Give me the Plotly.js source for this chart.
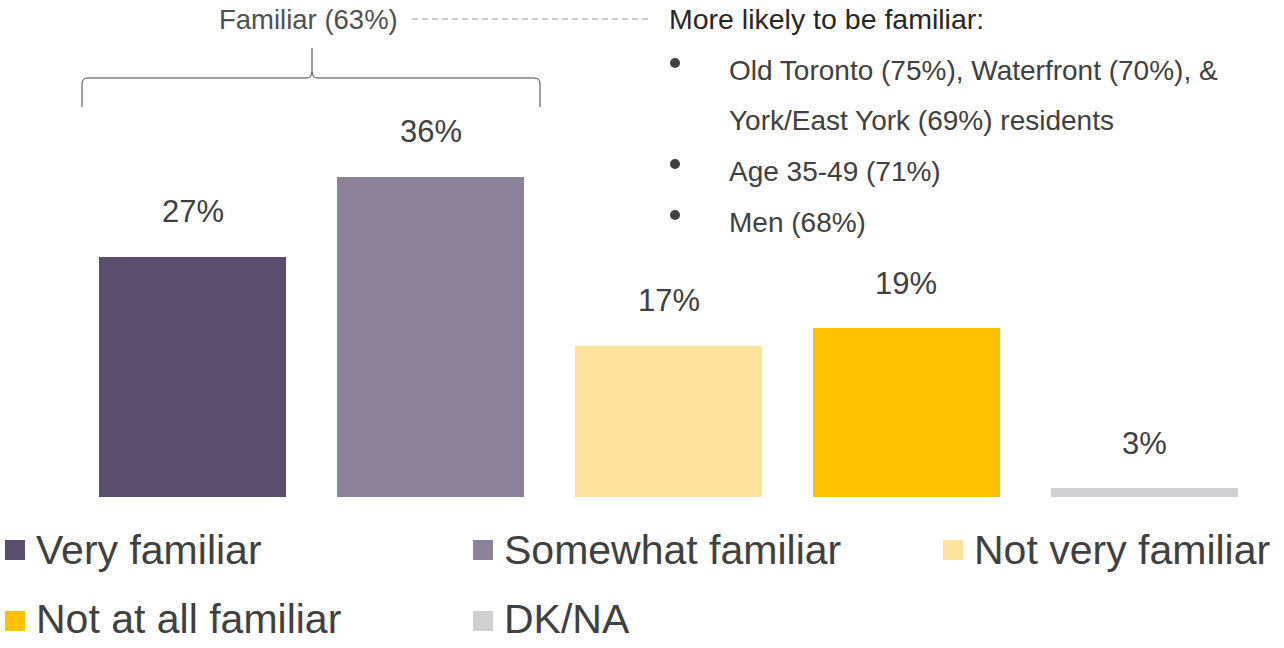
<!DOCTYPE html>
<html>
<head>
<meta charset="utf-8">
<script src="https://cdn.plot.ly/plotly-3.0.1.min.js"></script>
<style>html,body{margin:0;padding:0;background:#fff;}#chart{width:1284px;height:648px;}</style>
</head>
<body>
<div id="chart"></div>
<script>
// ---- data ----
const categories = ["Very familiar", "Somewhat familiar", "Not very familiar", "Not at all familiar", "DK/NA"];
const values = [27, 36, 17, 19, 1];
const valueLabels = ["27%", "36%", "17%", "19%", "3%"];
const colors = ["#5a4d6d", "#8b8199", "#fde39b", "#ffc000", "#d0cfd1"];
const groupLabel = "Familiar (63%)";
const noteTitle = "More likely to be familiar:";
const noteLines = [
  {bullet: true, text: "Old Toronto (75%), Waterfront (70%), &"},
  {bullet: false, text: "York/East York (69%) residents"},
  {bullet: true, text: "Age 35-49 (71%)"},
  {bullet: true, text: "Men (68%)"}
];

// ---- layout helpers ----
const W = 1284, H = 648;
const M = {l: 74, r: 21, t: 0, b: 151};
const PW = W - M.l - M.r, PH = H - M.t - M.b;
const px = x => (x - M.l) / PW;
const py = y => (M.t + PH - y) / PH;
const FONT = "Liberation Sans, Arial, sans-serif";
const TXT = "#404040";

const trace = {
  type: "bar",
  x: categories,
  y: values,
  width: 0.787,
  marker: {color: colors},
  hoverinfo: "x+y",
  showlegend: false
};

const annotations = [];
const shapes = [];

// value labels above bars
categories.forEach((c, i) => {
  annotations.push({
    x: c, y: values[i], xref: "x", yref: "y",
    text: valueLabels[i], showarrow: false,
    yanchor: "middle", yshift: 45,
    font: {family: FONT, size: 31, color: TXT}
  });
});

// custom legend
const legCols = [5, 473, 943];
const legRowsBox = [550, 621];
const legRowsText = [550, 619];
categories.forEach((c, i) => {
  const r = Math.floor(i / 3);
  const cx = legCols[i % 3], cy = legRowsBox[r];
  shapes.push({
    type: "rect", xref: "paper", yref: "paper",
    x0: px(cx), x1: px(cx + 20), y0: py(cy - 10), y1: py(cy + 10),
    fillcolor: colors[i], line: {width: 0}
  });
  annotations.push({
    xref: "paper", yref: "paper", x: px(cx + 29), y: py(legRowsText[r]),
    xanchor: "left", yanchor: "middle", showarrow: false,
    text: c, font: {family: FONT, size: 41, color: TXT}
  });
});

// bracket over first two bars
(function () {
  const xl = 82, xr = 540, xm = 312, yb = 107, yh = 78, yt = 48, r = 6;
  const P = (x, y) => px(x).toFixed(5) + "," + py(y).toFixed(5);
  const path = "M" + P(xl, yb) + " L" + P(xl, yh + r) +
    " Q" + P(xl, yh) + " " + P(xl + r, yh) +
    " L" + P(xm - r, yh) +
    " Q" + P(xm, yh) + " " + P(xm, yh - r) +
    " L" + P(xm, yt) +
    " M" + P(xm, yh - r) +
    " Q" + P(xm, yh) + " " + P(xm + r, yh) +
    " L" + P(xr - r, yh) +
    " Q" + P(xr, yh) + " " + P(xr, yh + r) +
    " L" + P(xr, yb);
  shapes.push({type: "path", xref: "paper", yref: "paper", path: path,
    line: {color: "#404040", width: 1}});
})();

// group label and dashed leader
annotations.push({
  xref: "paper", yref: "paper", x: px(400), y: py(19),
  xanchor: "right", yanchor: "middle", showarrow: false,
  text: groupLabel, font: {family: FONT, size: 27.5, color: "#505050"}
});
shapes.push({
  type: "line", xref: "paper", yref: "paper",
  x0: px(412), x1: px(650), y0: py(19), y1: py(19),
  line: {color: "#9a9a9a", width: 1, dash: "6px,4px"}
});

// note block
annotations.push({
  xref: "paper", yref: "paper", x: px(667), y: py(19),
  xanchor: "left", yanchor: "middle", showarrow: false,
  text: noteTitle, font: {family: FONT, size: 28.5, color: "#262626"}
});
const lineY = [70, 120, 171, 222];
noteLines.forEach((ln, i) => {
  annotations.push({
    xref: "paper", yref: "paper", x: px(727), y: py(lineY[i]),
    xanchor: "left", yanchor: "middle", showarrow: false,
    text: ln.text, font: {family: FONT, size: 28, color: TXT}
  });
  if (ln.bullet) {
    const by = lineY[i] - 7;
    shapes.push({
      type: "circle", xref: "paper", yref: "paper",
      x0: px(670), x1: px(680), y0: py(by - 5), y1: py(by + 5),
      fillcolor: TXT, line: {width: 0}
    });
  }
});

const layout = {
  width: W, height: H,
  margin: M,
  paper_bgcolor: "#fff", plot_bgcolor: "#fff",
  showlegend: false,
  bargap: 0,
  xaxis: {type: "category", range: [-0.5, 4.5], visible: false, fixedrange: true},
  yaxis: {range: [0, PH / 8.89], visible: false, fixedrange: true},
  annotations: annotations,
  shapes: shapes
};

Plotly.newPlot("chart", [trace], layout, {displayModeBar: false, staticPlot: true});
</script>
</body>
</html>
